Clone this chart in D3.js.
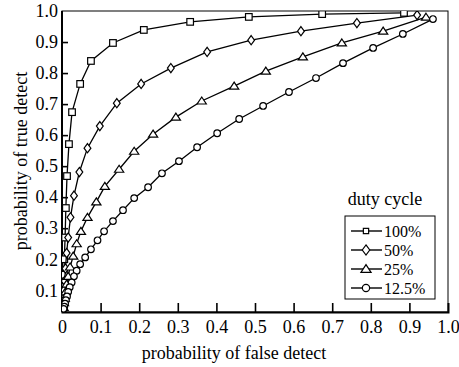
<!DOCTYPE html>
<html>
<head>
<style>
  body { margin: 0; background: #fff; }
  text { font-family: "Liberation Serif", "Times New Roman", serif; fill: #000; }
</style>
</head>
<body>
<svg width="459" height="367"></svg>
<script src="https://d3js.org/d3.v7.min.js"></script>
<script>

// values
var xTicks = [0, 0.1, 0.2, 0.3, 0.4, 0.5, 0.6, 0.7, 0.8, 0.9, 1.0];
var yTicks = [0.1, 0.2, 0.3, 0.4, 0.5, 0.6, 0.7, 0.8, 0.9, 1.0];
var seriesNames = ["100%", "50%", "25%", "12.5%"];
var seriesSymbols = ["square", "diamond", "triangle", "circle"];

var pfa100 = [0.886, 0.674, 0.484, 0.332, 0.212, 0.132, 0.075, 0.047, 0.026, 0.018, 0.013, 0.010, 0.008, 0.006, 0.005, 0.004, 0.003, 0.002, 0.001];
var pd100  = [0.994, 0.990, 0.981, 0.965, 0.939, 0.897, 0.839, 0.765, 0.674, 0.571, 0.468, 0.365, 0.270, 0.200, 0.150, 0.110, 0.080, 0.060, 0.045];

var pfa50 = [0.920, 0.764, 0.619, 0.490, 0.376, 0.282, 0.205, 0.142, 0.098, 0.066, 0.045, 0.031, 0.022, 0.016, 0.012, 0.009, 0.007, 0.005, 0.004, 0.003, 0.002];
var pd50  = [0.987, 0.961, 0.935, 0.906, 0.868, 0.816, 0.765, 0.703, 0.629, 0.558, 0.481, 0.405, 0.335, 0.270, 0.220, 0.170, 0.130, 0.100, 0.075, 0.055, 0.040];

var pfa25 = [0.943, 0.832, 0.725, 0.624, 0.528, 0.446, 0.362, 0.295, 0.236, 0.187, 0.148, 0.111, 0.089, 0.066, 0.049, 0.038, 0.029, 0.021, 0.016, 0.012, 0.009, 0.007, 0.005, 0.004];
var pd25  = [0.980, 0.935, 0.897, 0.852, 0.806, 0.758, 0.710, 0.658, 0.603, 0.548, 0.490, 0.435, 0.385, 0.335, 0.290, 0.250, 0.210, 0.175, 0.145, 0.120, 0.095, 0.075, 0.060, 0.045];

var pfa12 = [0.961, 0.883, 0.806, 0.728, 0.658, 0.588, 0.521, 0.459, 0.402, 0.350, 0.303, 0.259, 0.223, 0.187, 0.158, 0.132, 0.109, 0.092, 0.075, 0.060, 0.047, 0.038, 0.031, 0.025, 0.020, 0.016, 0.013, 0.010, 0.008, 0.006, 0.004];
var pd12  = [0.974, 0.926, 0.881, 0.832, 0.784, 0.739, 0.694, 0.652, 0.606, 0.561, 0.516, 0.477, 0.432, 0.397, 0.358, 0.323, 0.290, 0.261, 0.232, 0.206, 0.184, 0.163, 0.145, 0.125, 0.110, 0.095, 0.080, 0.068, 0.057, 0.047, 0.040];

var series = [
  { name: seriesNames[0], sym: seriesSymbols[0], xs: pfa100, ys: pd100 },
  { name: seriesNames[1], sym: seriesSymbols[1], xs: pfa50, ys: pd50 },
  { name: seriesNames[2], sym: seriesSymbols[2], xs: pfa25, ys: pd25 },
  { name: seriesNames[3], sym: seriesSymbols[3], xs: pfa12, ys: pd12 }
];

var svg = d3.select("svg");
var pl = 62, pr = 448, pt = 11, pb = 312;

var x = d3.scaleLinear().domain([0, 1]).range([pl, pr]);
var y = d3.scaleLinear().domain([0.03, 1.0]).range([pb, pt]);

// plot frame
svg.append("rect")
    .attr("x", pl).attr("y", pt)
    .attr("width", pr - pl).attr("height", pb - pt)
    .attr("fill", "none").attr("stroke", "#000").attr("stroke-width", 1);

svg.append("defs").append("clipPath").attr("id", "clip")
  .append("rect")
    .attr("x", pl).attr("y", pt)
    .attr("width", pr - pl).attr("height", pb - pt);

// x axis: ticks pointing inward
var xAxis = svg.append("g")
    .attr("transform", "translate(0," + pb + ")")
    .call(d3.axisBottom(x).tickValues(xTicks).tickSize(-9).tickPadding(6)
      .tickFormat(function(d) { return d === 0 ? "0" : d3.format(".1f")(d); }));
xAxis.select(".domain").attr("stroke-width", 2);
xAxis.selectAll(".tick line").attr("stroke-width", 1.6)
    .filter(function(d) { return d === 0 || d === 1; }).remove();
xAxis.selectAll("text").attr("font-size", 18).attr("font-family", "Liberation Serif").attr("dy", "0.85em");

var yAxis = svg.append("g")
    .attr("transform", "translate(" + pl + ",0)")
    .call(d3.axisLeft(y).tickValues(yTicks).tickSize(-6).tickPadding(4)
      .tickFormat(d3.format(".1f")));
yAxis.select(".domain").attr("stroke-width", 2).attr("d", "M0," + pt + "V" + pb);
yAxis.selectAll(".tick line").attr("stroke-width", 1.6)
    .filter(function(d) { return d === 1; }).remove();
yAxis.selectAll("text").attr("font-size", 18).attr("font-family", "Liberation Serif");

// axis titles
svg.append("text")
    .attr("x", 234).attr("y", 359)
    .attr("text-anchor", "middle").attr("font-size", 18)
    .text("probability of false detect");

svg.append("text")
    .attr("transform", "translate(27,161) rotate(-90)")
    .attr("text-anchor", "middle").attr("font-size", 18)
    .text("probability of true detect");

function marker(sel, sym, s) {
  if (sym === "circle") {
    sel.append("circle").attr("r", 3.3 * s);
  } else if (sym === "square") {
    sel.append("rect").attr("x", -3.3 * s).attr("y", -3.3 * s).attr("width", 6.6 * s).attr("height", 6.6 * s);
  } else if (sym === "diamond") {
    sel.append("path").attr("d", "M0," + (-4.6 * s) + "L" + (3.4 * s) + ",0L0," + (4.6 * s) + "L" + (-3.4 * s) + ",0Z");
  } else {
    sel.append("path").attr("d", "M0," + (-4 * s) + "L" + (4.6 * s) + "," + (3 * s) + "L" + (-4.6 * s) + "," + (3 * s) + "Z");
  }
}

var line = d3.line()
    .x(function(d) { return x(d[0]); })
    .y(function(d) { return y(d[1]); });

var plot = svg.append("g").attr("clip-path", "url(#clip)");

series.forEach(function(s) {
  var pts = s.xs.map(function(v, i) { return [v, s.ys[i]]; });
  plot.append("path")
      .attr("d", line(pts))
      .attr("fill", "none").attr("stroke", "#000").attr("stroke-width", 1.3);
  plot.selectAll(null)
      .data(pts)
      .enter().append("g")
      .attr("transform", function(d) { return "translate(" + x(d[0]) + "," + y(d[1]) + ")"; })
      .attr("fill", "#fff").attr("stroke", "#000").attr("stroke-width", 1.2)
      .each(function() { marker(d3.select(this), s.sym, 1); });
});

// legend
svg.append("text")
    .attr("x", 385).attr("y", 205)
    .attr("text-anchor", "middle").attr("font-size", 18)
    .text("duty cycle");

svg.append("rect")
    .attr("x", 345).attr("y", 216).attr("width", 90).attr("height", 83)
    .attr("fill", "#fff").attr("stroke", "#000").attr("stroke-width", 1);

series.forEach(function(s, i) {
  var ly = 231 + i * 19;
  var g = svg.append("g").attr("transform", "translate(0," + ly + ")");
  g.append("line").attr("x1", 351).attr("x2", 382)
      .attr("stroke", "#000").attr("stroke-width", 1.4);
  var m = g.append("g").attr("transform", "translate(366,0)")
      .attr("fill", "#fff").attr("stroke", "#000").attr("stroke-width", 1.2);
  marker(m, s.sym, i === 0 ? 0.8 : 1.1);
  g.append("text").attr("x", 384).attr("y", 0).attr("dy", "0.35em")
      .attr("font-size", 16).text(s.name);
});

</script>
</body>
</html>
